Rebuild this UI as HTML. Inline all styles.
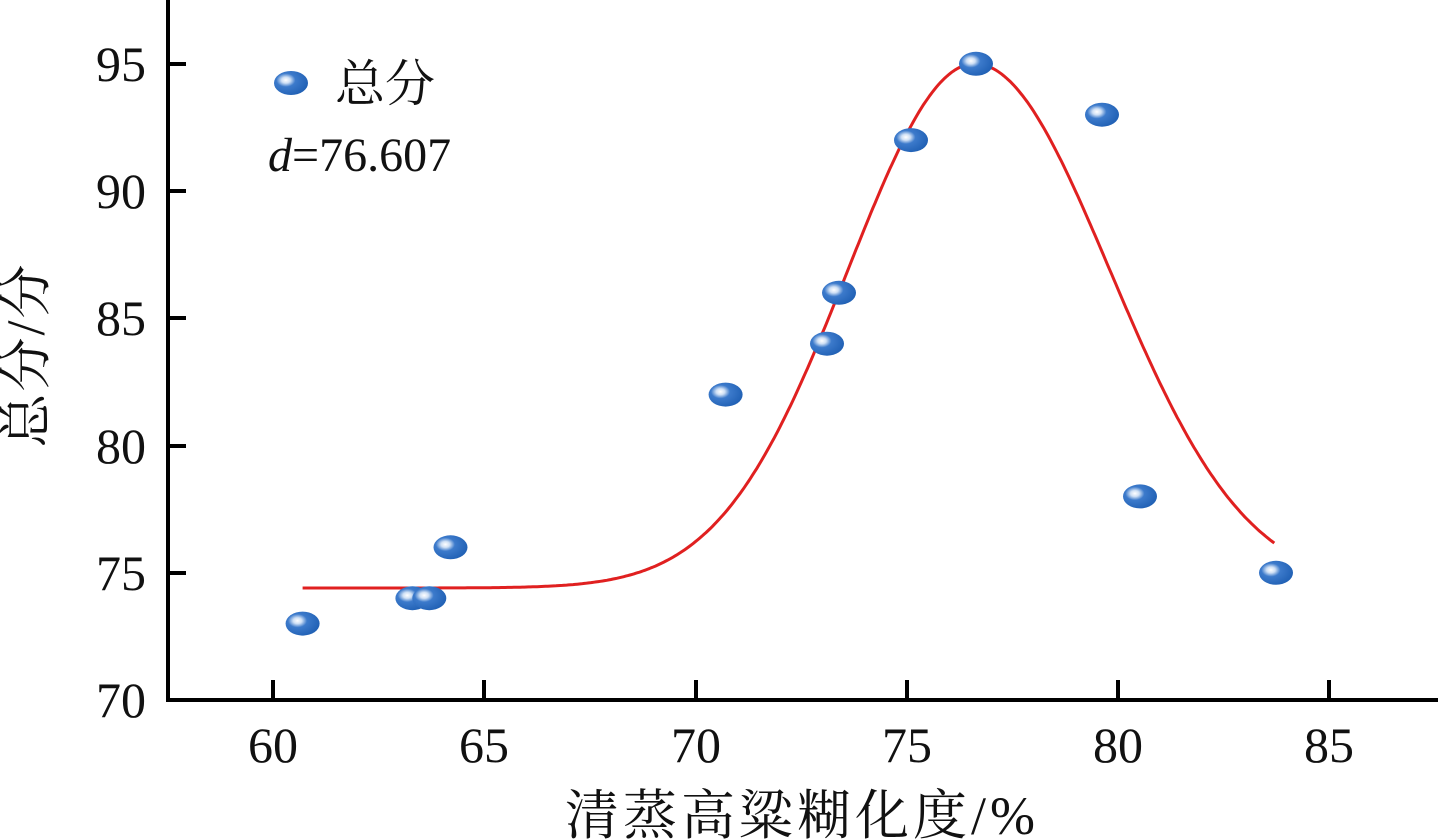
<!DOCTYPE html>
<html><head><meta charset="utf-8"><style>body{margin:0;background:#fff}svg{display:block}text{font-family:"Liberation Serif","Noto Serif CJK SC",serif;fill:#111}</style></head>
<body>
<svg width="1438" height="839" viewBox="0 0 1438 839" xmlns="http://www.w3.org/2000/svg">
<defs>
<radialGradient id="g" cx="0.35" cy="0.38" r="0.7">
<stop offset="0" stop-color="#ffffff"/><stop offset="0.18" stop-color="#cfe0f5"/><stop offset="0.4" stop-color="#3c7acb"/><stop offset="1" stop-color="#1f5fb3"/>
</radialGradient>
</defs>
<g stroke="#000" stroke-width="4" fill="none">
<path d="M168 0 V700 H1438"/>
<path d="M273 700 v-20 M484 700 v-20 M696 700 v-20 M907 700 v-20 M1118 700 v-20 M1329 700 v-20"/>
<path d="M168 64 h18 M168 191 h18 M168 318 h18 M168 446 h18 M168 573 h18"/>
</g>
<g font-size="50" text-anchor="end">
<text x="146" y="81">95</text><text x="146" y="208">90</text><text x="146" y="335">85</text><text x="146" y="463">80</text><text x="146" y="590">75</text><text x="146" y="717">70</text>
</g>
<g font-size="50" text-anchor="middle">
<text x="273" y="762">60</text><text x="484" y="762">65</text><text x="696" y="762">70</text><text x="907" y="762">75</text><text x="1118" y="762">80</text><text x="1329" y="762">85</text>
</g>
<text x="802" y="834" font-size="54" text-anchor="middle" letter-spacing="4">清蒸高粱糊化度/%</text>
<text transform="translate(44,355) rotate(-90)" font-size="54" text-anchor="middle" letter-spacing="2">总分/分</text>
<polyline id="c" fill="none" stroke="#e02020" stroke-width="3" points=""/>
<g fill="url(#g)">
<ellipse cx="302.6" cy="623.6" rx="17" ry="12"/>
<ellipse cx="412.4" cy="598.2" rx="17" ry="12"/>
<ellipse cx="429.3" cy="598.2" rx="17" ry="12"/>
<ellipse cx="450.5" cy="547.3" rx="17" ry="12"/>
<ellipse cx="725.6" cy="394.6" rx="17" ry="12"/>
<ellipse cx="827" cy="343.7" rx="17" ry="12"/>
<ellipse cx="839" cy="292.8" rx="17" ry="12"/>
<ellipse cx="911" cy="140.1" rx="17" ry="12"/>
<ellipse cx="976" cy="63.8" rx="17" ry="12"/>
<ellipse cx="1102" cy="114.7" rx="17" ry="12"/>
<ellipse cx="1140" cy="496.4" rx="17" ry="12"/>
<ellipse cx="1276" cy="572.8" rx="17" ry="12"/>
<ellipse cx="291" cy="83" rx="17" ry="12"/>
</g>
<text x="335" y="101" font-size="50">总分</text>
<text x="268" y="171" font-size="48"><tspan font-style="italic">d</tspan>=76.607</text>
<script>
var X=function(v){return 273+(v-60)*42.25},Y=function(v){return 700-(v-70)*25.45};
var p=[];for(var x=60.7;x<=83.71;x+=0.05){var s=x<76.607?3.0:3.2;var y=74.4+20.6*Math.exp(-Math.pow(x-76.607,2)/(2*s*s));p.push(X(x).toFixed(1)+","+Y(y).toFixed(1));}
document.getElementById('c').setAttribute('points',p.join(' '));
</script>
</svg>
</body></html>
